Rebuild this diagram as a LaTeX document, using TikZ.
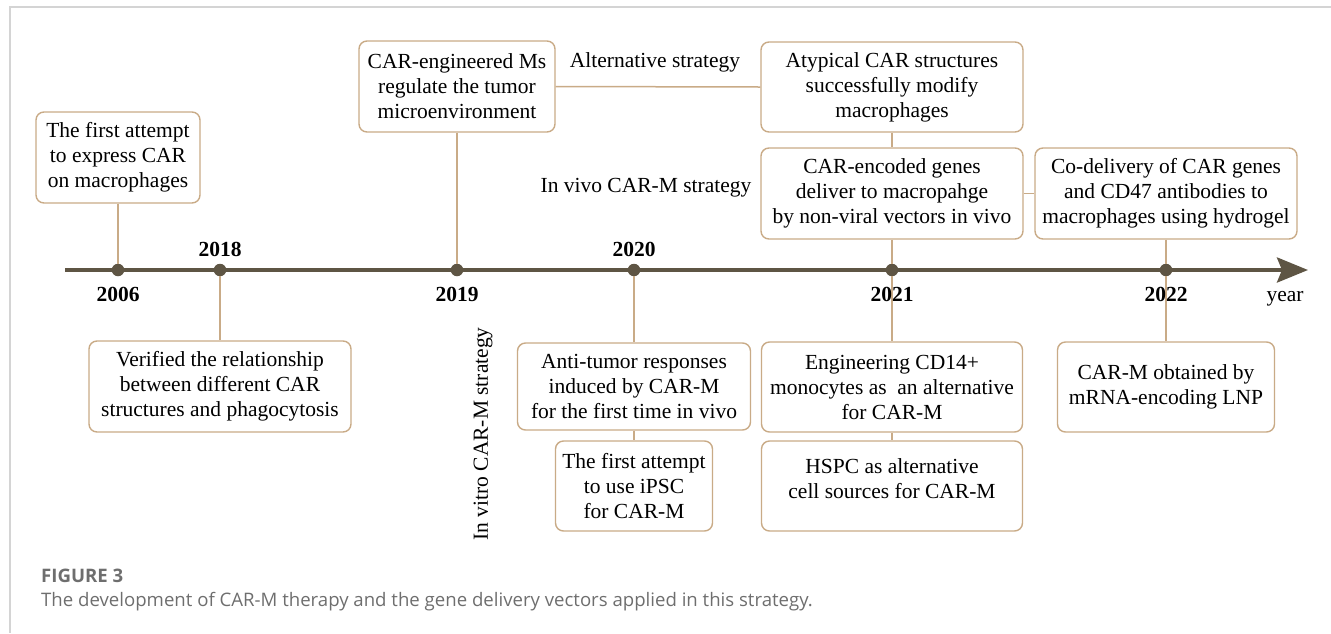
\documentclass[tikz,border=0pt]{standalone}
\usepackage{fontspec}
\setmainfont{Liberation Serif}
\newfontfamily\capfont{Open Sans}
\usetikzlibrary{arrows.meta}
\definecolor{axisc}{HTML}{5E5544}
\definecolor{tanc}{HTML}{C9AB87}
\definecolor{framec}{HTML}{D4D4D4}
\definecolor{capc}{HTML}{6E6E6E}
\begin{document}
\begin{tikzpicture}[x=1pt,y=-1pt,
  box/.style={draw=tanc, line width=1.4pt, rounded corners=8pt, align=center, inner sep=0pt, fill=white,
    font=\fontsize{21.5}{25}\selectfont},
  conn/.style={draw=tanc, line width=1.5pt},
  dotc/.style={circle, fill=axisc, minimum size=12.5pt, inner sep=0pt},
  yr/.style={font=\fontsize{21.5}{25}\selectfont\bfseries, inner sep=0pt, anchor=base},
  lbl/.style={font=\fontsize{21.5}{25}\selectfont, inner sep=0pt},
  axisline/.style={draw=axisc, line width=4pt, -{Stealth[length=31pt,width=25pt,inset=5pt]}},
  framel/.style={draw=framec, line width=2pt}
]
\useasboundingbox (0,0) rectangle (1331,633);
% frame
\coordinate (fr0) at (10,7);
\coordinate (fr1) at (1331,7);
\coordinate (fr2) at (10,633);
\draw[framel] (fr1) -- (fr0) -- (fr2);

% boxes above the axis
\node[box, minimum width=164pt, minimum height=91pt] (b1) at (118,157.5) {The first attempt\\to express CAR\\on macrophages};
\node[box, minimum width=196pt, minimum height=91pt] (b2) at (457,86.5) {CAR-engineered Ms\\regulate the tumor\\microenvironment};
\node[box, minimum width=262pt, minimum height=90pt] (b4) at (892,87) {Atypical CAR structures\\successfully modify\\macrophages};
\node[box, minimum width=262pt, minimum height=91pt] (b5) at (892,193.5) {CAR-encoded genes\\deliver to macropahge\\by non-viral vectors in vivo};
\node[box, minimum width=262pt, minimum height=91pt] (b7) at (1166,193.5) {Co-delivery of CAR genes\\and CD47 antibodies to\\macrophages using hydrogel};

% boxes below the axis
\node[box, minimum width=262pt, minimum height=91pt] (b8) at (220,386.5) {Verified the relationship\\between different CAR\\structures and phagocytosis};
\node[box, minimum width=233pt, minimum height=87pt] (b10) at (634,386.5) {Anti-tumor responses\\induced by CAR-M\\for the first time in vivo};
\node[box, minimum width=157pt, minimum height=90pt] (b11) at (634,486) {The first attempt\\to use iPSC\\for CAR-M};
\node[box, minimum width=261pt, minimum height=90pt] (b12) at (892,387) {Engineering CD14+\\monocytes as\ \ an alternative\\for CAR-M};
\node[box, minimum width=261pt, minimum height=90pt, text depth=14pt] (b13) at (892,486) {HSPC as alternative\\cell sources for CAR-M};
\node[box, minimum width=217pt, minimum height=90pt] (b14) at (1166,387) {CAR-M obtained by\\mRNA-encoding LNP};

% free labels
\node[lbl] (alt) at (655,62) {Alternative strategy};
\node[lbl] (invivo) at (646,188) {In vivo CAR-M strategy};
\node[lbl, rotate=90] (invitro) at (483,434) {In vitro CAR-M strategy};

% axis
\coordinate (ax0) at (65,270);
\coordinate (ax1) at (1308,270);
\draw[axisline] (ax0) -- (ax1);

% dots
\node[dotc] (d2006) at (118,270) {};
\node[dotc] (d2018) at (220,270) {};
\node[dotc] (d2019) at (457,270) {};
\node[dotc] (d2020) at (634,270) {};
\node[dotc] (d2021) at (892,270) {};
\node[dotc] (d2022) at (1166,270) {};

% connectors
\draw[conn] (b1.south) -- (d2006.north);
\draw[conn] (d2018.south) -- (b8.north);
\draw[conn] (b2.south) -- (d2019.north);
\draw[conn] (b2.east) -- (b4.west);
\draw[conn] (d2020.south) -- (b10.north);
\draw[conn] (b10.south) -- (b11.north);
\draw[conn] (b4.south) -- (b5.north);
\draw[conn] (b5.south) -- (d2021.north);
\draw[conn] (d2021.south) -- (b12.north);
\draw[conn] (b12.south) -- (b13.north);
\draw[conn] (b5.east) -- (b7.west);
\draw[conn] (b7.south) -- (d2022.north);
\draw[conn] (d2022.south) -- (b14.north);

% year labels
\node[yr] (y2006) at (118,301.5) {2006};
\node[yr] (y2018) at (220,256) {2018};
\node[yr] (y2019) at (457,301.5) {2019};
\node[yr] (y2020) at (634,256) {2020};
\node[yr] (y2021) at (892,301.5) {2021};
\node[yr] (y2022) at (1166,301.5) {2022};
\node[lbl, anchor=base] (yearl) at (1285,301.5) {year};

% caption
\node[anchor=base west, inner sep=0pt, text=capc, font=\capfont\bfseries\fontsize{18.6}{20}\selectfont] (fig) at (41,582) {FIGURE 3};
\node[anchor=base west, inner sep=0pt, text=capc, font=\capfont\fontsize{18.6}{20}\selectfont] (cap) at (41,606) {The development of CAR-M therapy and the gene delivery vectors applied in this strategy.};
\end{tikzpicture}
\end{document}
